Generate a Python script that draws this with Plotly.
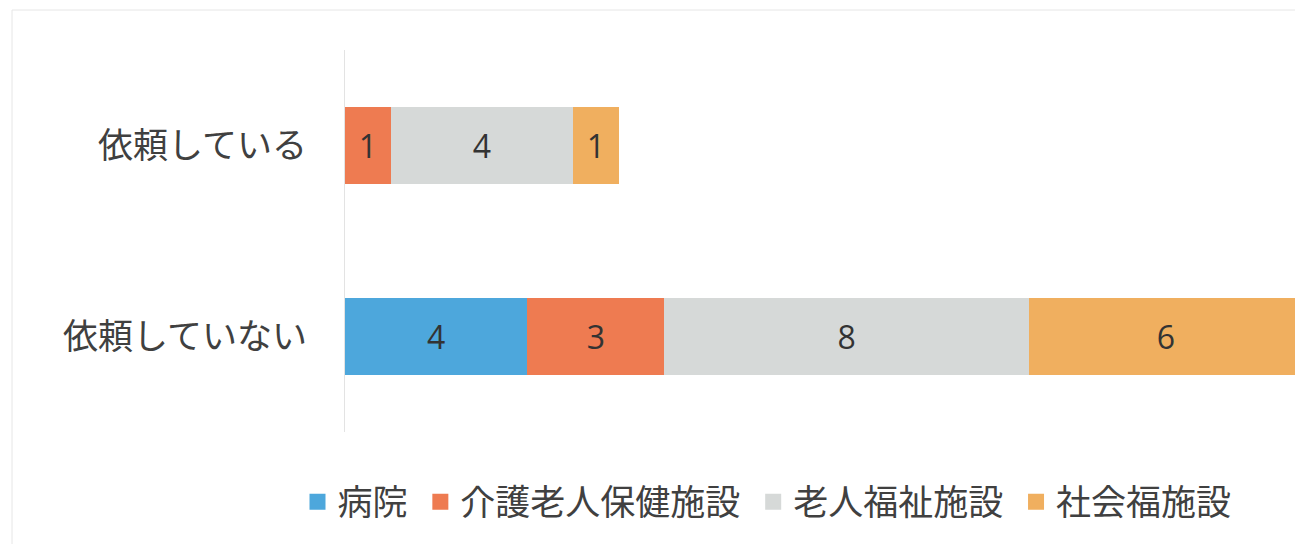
import plotly.graph_objects as go

# Survey: whether a request is made, broken down by facility type
categories = ["依頼している", "依頼していない"]
series_names = ["病院", "介護老人保健施設", "老人福祉施設", "社会福施設"]
hospital = [0, 4]
geriatric_health = [1, 3]
elderly_welfare = [4, 8]
social_welfare = [1, 6]
series_values = [hospital, geriatric_health, elderly_welfare, social_welfare]
colors = ["#4DA7DC", "#EE7B51", "#D6D9D8", "#F0AF5F"]

W, H = 1295, 544
left, right, top, bottom = 345, 0, 50, 112
x_max = 20.83

fig = go.Figure()
for name, vals, col in zip(series_names, series_values, colors):
    fig.add_trace(go.Bar(
        y=categories, x=vals, name=name, orientation="h",
        marker=dict(color=col, line=dict(width=0)),
        text=[str(v) if v else "" for v in vals],
        textposition="inside", insidetextanchor="middle",
        textfont=dict(family="Open Sans, sans-serif", size=32, color="#333333"),
        showlegend=False, hoverinfo="skip", cliponaxis=True,
    ))
    # legend entry with a larger square swatch
    fig.add_trace(go.Scatter(
        x=[None], y=[None], mode="markers", name=name + "\u00a0",
        marker=dict(symbol="square", size=16, color=col),
        showlegend=True,
    ))

fig.update_layout(
    width=W, height=H,
    margin=dict(l=left, r=right, t=top, b=bottom, pad=0, autoexpand=False),
    barmode="stack", bargap=0.6,
    plot_bgcolor="white", paper_bgcolor="white",
    font=dict(family="Noto Sans CJK JP", color="#404040"),
    showlegend=True,
    legend=dict(
        orientation="h", xref="container", yref="container",
        x=771 / W, xanchor="center", y=(H - 502) / H, yanchor="middle",
        font=dict(family="Noto Sans CJK JP", size=35, color="#404040"),
        itemsizing="trace", traceorder="normal", itemwidth=30,
        bgcolor="rgba(0,0,0,0)",
    ),
    uniformtext=dict(mode=False),
)
fig.update_xaxes(range=[0, x_max], showgrid=False, zeroline=False,
                 showticklabels=False, showline=False, fixedrange=True)
fig.update_yaxes(categoryorder="array", categoryarray=categories,
                 autorange="reversed", showgrid=False, zeroline=False,
                 showline=True, linecolor="#E3E3E3", linewidth=1,
                 ticks="", ticklabelstandoff=30,
                 tickfont=dict(family="Noto Sans CJK JP", size=35, color="#404040"))

# faint outer frame of the chart area
fig.add_shape(type="rect", xref="paper", yref="paper",
              x0=(12 - left) / (W - left - right), x1=1.02,
              y0=-0.3, y1=(H - bottom - 10) / (H - top - bottom),
              line=dict(color="#E6E6E6", width=1), layer="below")

fig.write_html("out.html")
